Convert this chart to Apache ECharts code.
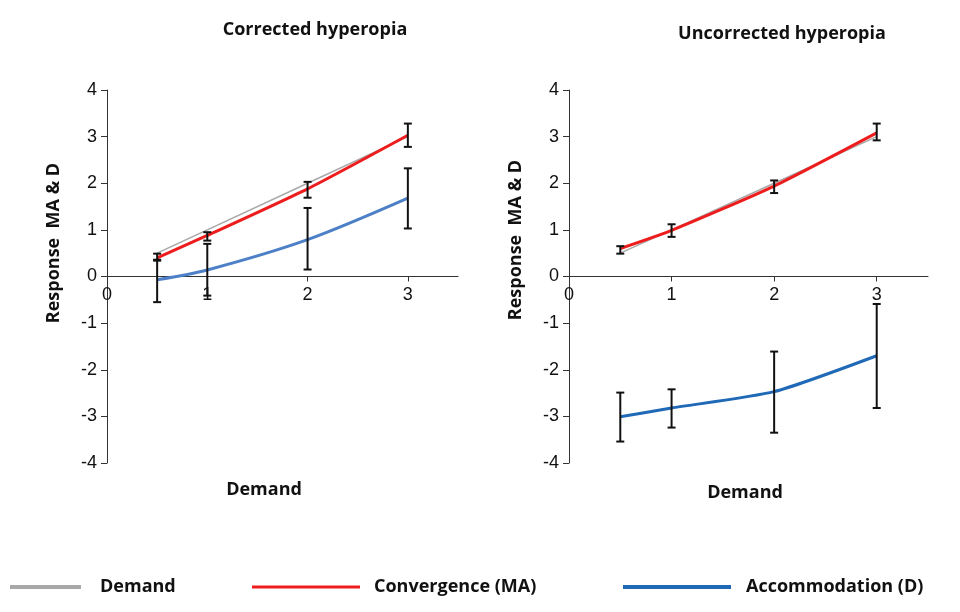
<!DOCTYPE html>
<html>
<head>
<meta charset="utf-8">
<script src="https://cdn.jsdelivr.net/npm/echarts@6/dist/echarts.min.js"></script>
<style>
  html, body { margin: 0; padding: 0; background: #fff; }
  #main { width: 960px; height: 612px; }
</style>
</head>
<body>
<div id="main"></div>
<script>
// demand levels (x)
var demandX = [0.5, 1, 2, 3];
var xTicks = [0, 1, 2, 3];

// corrected hyperopia
var corrDemand = [0.5, 1, 2, 3];
var corrConv = [0.4, 0.88, 1.88, 3.03];
var corrConvLow = [0.34, 0.77, 1.69, 2.78];
var corrConvHigh = [0.49, 0.95, 2.03, 3.28];
var corrAcc = [-0.07, 0.14, 0.79, 1.68];
var corrAccLow = [-0.55, -0.41, 0.15, 1.03];
var corrAccHigh = [0.36, 0.70, 1.47, 2.32];

// uncorrected hyperopia
var uncDemand = [0.5, 1, 2, 3];
var uncConv = [0.6, 0.99, 1.94, 3.08];
var uncConvLow = [0.49, 0.85, 1.79, 2.92];
var uncConvHigh = [0.65, 1.12, 2.06, 3.28];
var uncAcc = [-3.01, -2.82, -2.47, -1.70];
var uncAccLow = [-3.54, -3.24, -3.35, -2.82];
var uncAccHigh = [-2.49, -2.42, -1.61, -0.59];

var GRAY = '#a8a8a8', RED = '#ee1d1d', BLUE_L = '#4d80c6', BLUE_D = '#1f69b6';
var labelFont = { fontFamily: 'Liberation Sans', fontSize: 18, color: '#111' };
var boldFont = 'bold 18px "Open Sans", "Noto Sans", sans-serif';
var GRID_H = 373;

function pairs(ys) {
  return demandX.map(function (x, i) { return [x, ys[i]]; });
}
function bars(lo, hi) {
  return demandX.map(function (x, i) { return [x, lo[i], hi[i]]; });
}

function errorBars(params, api) {
  var x = api.value(0);
  var top = api.coord([x, api.value(2)]);
  var bot = api.coord([x, api.value(1)]);
  var w = 4;
  var st = { stroke: '#111', lineWidth: 2 };
  return {
    type: 'group',
    children: [
      { type: 'line', shape: { x1: top[0], y1: top[1], x2: bot[0], y2: bot[1] }, style: st },
      { type: 'line', shape: { x1: top[0] - w, y1: top[1], x2: top[0] + w, y2: top[1] }, style: st },
      { type: 'line', shape: { x1: bot[0] - w, y1: bot[1], x2: bot[0] + w, y2: bot[1] }, style: st }
    ]
  };
}

// x axis sits on y = 0, which is the middle of the grid (y runs -4..4)
function xAxisCfg(idx) {
  return {
    type: 'value', gridIndex: idx, min: 0, max: 3.5, interval: 1,
    position: 'bottom', offset: -GRID_H / 2,
    axisLine: { onZero: false, lineStyle: { color: '#333', width: 1 } },
    axisTick: { customValues: xTicks, length: 5, lineStyle: { color: '#333' } },
    axisLabel: Object.assign({ customValues: xTicks, margin: 10 }, labelFont),
    splitLine: { show: false }
  };
}
function yAxisCfg(idx) {
  return {
    type: 'value', gridIndex: idx, min: -4, max: 4, interval: 1,
    axisLine: { show: true, onZero: false, lineStyle: { color: '#333', width: 1 } },
    axisTick: { show: true, length: 6, lineStyle: { color: '#333' } },
    axisLabel: Object.assign({ margin: 10 }, labelFont),
    splitLine: { show: false }
  };
}

function lineSeries(name, idx, data, color, width, smooth, z) {
  return {
    name: name, type: 'line', xAxisIndex: idx, yAxisIndex: idx,
    data: data, smooth: smooth, showSymbol: false, symbol: 'none',
    lineStyle: { color: color, width: width }, itemStyle: { color: color },
    z: z
  };
}
function barSeries(idx, data) {
  return {
    type: 'custom', xAxisIndex: idx, yAxisIndex: idx,
    renderItem: errorBars, data: data, encode: { x: 0, y: [1, 2] }, z: 5
  };
}

function legendCfg(name, color, left, w, h, pad) {
  return {
    left: left, top: 573, icon: 'rect', itemWidth: w, itemHeight: h,
    data: [{ name: name, itemStyle: { color: color } }],
    textStyle: { fontFamily: '"Open Sans", "Noto Sans", sans-serif', fontWeight: 'bold', fontSize: 18, color: '#111', padding: [0, 0, 0, pad] },
    selectedMode: false
  };
}

var chart = echarts.init(document.getElementById('main'));
chart.setOption({
  backgroundColor: '#fff',
  animation: false,
  title: [
    { text: 'Corrected hyperopia', left: 310, top: 16, textAlign: 'center',
      textStyle: { fontFamily: '"Open Sans", "Noto Sans", sans-serif', fontWeight: 'bold', fontSize: 18, color: '#111' } },
    { text: 'Uncorrected hyperopia', left: 777, top: 20, textAlign: 'center',
      textStyle: { fontFamily: '"Open Sans", "Noto Sans", sans-serif', fontWeight: 'bold', fontSize: 18, color: '#111' } }
  ],
  grid: [
    { left: 107, top: 90, width: 351, height: GRID_H },
    { left: 569, top: 90, width: 359, height: GRID_H }
  ],
  xAxis: [xAxisCfg(0), xAxisCfg(1)],
  yAxis: [yAxisCfg(0), yAxisCfg(1)],
  legend: [
    legendCfg('Demand', GRAY, 5, 71, 4, 14),
    legendCfg('Convergence (MA)', RED, 247, 108, 3, 9),
    legendCfg('Accommodation (D)', BLUE_D, 618, 108, 4, 10)
  ],
  graphic: [
    { type: 'text', x: 54, y: 243, rotation: Math.PI / 2,
      style: { text: 'Response  MA & D', font: boldFont, fill: '#111', align: 'center', verticalAlign: 'middle' } },
    { type: 'text', x: 516, y: 240, rotation: Math.PI / 2,
      style: { text: 'Response  MA & D', font: boldFont, fill: '#111', align: 'center', verticalAlign: 'middle' } },
    { type: 'text', x: 264, y: 490,
      style: { text: 'Demand', font: boldFont, fill: '#111', align: 'center', verticalAlign: 'middle' } },
    { type: 'text', x: 745, y: 493,
      style: { text: 'Demand', font: boldFont, fill: '#111', align: 'center', verticalAlign: 'middle' } }
  ],
  series: [
    lineSeries('Demand', 0, pairs(corrDemand), GRAY, 1.5, false, 2),
    lineSeries('Convergence (MA)', 0, pairs(corrConv), RED, 3, 0.2, 3),
    lineSeries('Accommodation (D)', 0, pairs(corrAcc), BLUE_L, 3, 0.3, 3),
    barSeries(0, bars(corrConvLow, corrConvHigh)),
    barSeries(0, bars(corrAccLow, corrAccHigh)),
    lineSeries('Demand', 1, pairs(uncDemand), GRAY, 1.5, false, 2),
    lineSeries('Convergence (MA)', 1, pairs(uncConv), RED, 3, 0.2, 3),
    lineSeries('Accommodation (D)', 1, pairs(uncAcc), BLUE_D, 3, 0.2, 3),
    barSeries(1, bars(uncConvLow, uncConvHigh)),
    barSeries(1, bars(uncAccLow, uncAccHigh))
  ]
});
</script>
</body>
</html>
